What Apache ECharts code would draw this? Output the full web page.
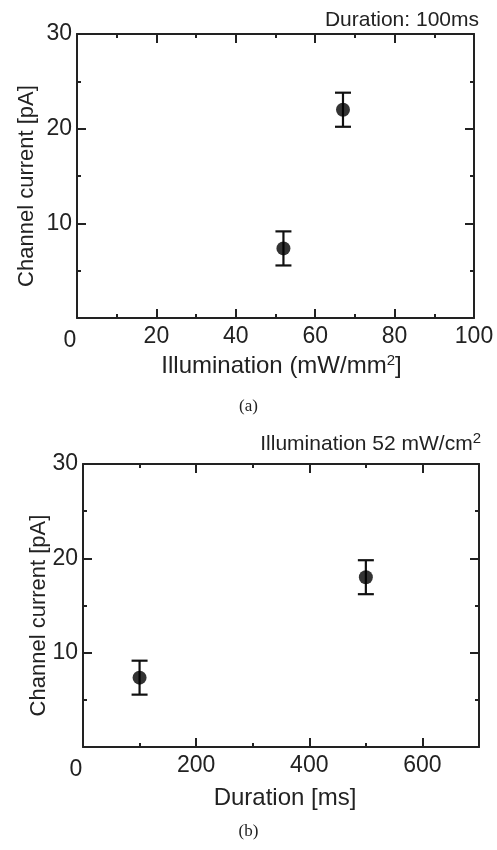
<!DOCTYPE html>
<html>
<head>
<meta charset="utf-8">
<script src="https://cdn.jsdelivr.net/npm/echarts@6/dist/echarts.min.js"></script>
<style>
html,body{margin:0;padding:0;background:#fff;}
#chart{width:497px;height:850px;}
</style>
</head>
<body>
<div id="chart"></div>
<script>
// Panel (a): current vs illumination (duration 100 ms)
const illumination = [52, 67];
const currentA = [7.35, 22.0];
const errA = [1.8, 1.8];
// Panel (b): current vs duration (illumination 52 mW/cm2)
const duration = [100, 500];
const currentB = [7.35, 18.0];
const errB = [1.8, 1.8];
// axis ticks
const xMajorB = [0, 200, 400, 600];
const xMinorB = [100, 300, 500];

const FONT = '"Liberation Sans", Arial, Helvetica, sans-serif';
const INK = '#222';

const chart = echarts.init(document.getElementById('chart'), null, {renderer: 'canvas'});

const lineStyle = {color: INK, width: 2};
const axisLine = {show: true, onZero: false, lineStyle};
function xLabelFmt(v) { return v === 0 ? '{z|0}' : String(v); }
const xLabel = {
  show: true, fontSize: 23, fontFamily: FONT, color: INK, margin: 7,
  formatter: xLabelFmt,
  rich: {z: {fontSize: 23, fontFamily: FONT, color: INK, padding: [4, 14, 0, 0]}}
};
const yLabel = {
  show: true, fontSize: 23, fontFamily: FONT, color: INK, margin: 5,
  formatter: v => (v === 0 ? '' : String(v))
};

function yAxes(gi, nameGap) {
  return [
    {gridIndex: gi, type: 'value', min: 0, max: 30, interval: 10, position: 'left',
     axisLine, splitLine: {show: false},
     axisTick: {show: true, inside: true, length: 9, lineStyle},
     minorTick: {show: true, splitNumber: 2, length: 4, lineStyle},
     axisLabel: yLabel,
     name: 'Channel current [pA]', nameLocation: 'middle', nameGap: nameGap,
     nameMoveOverlap: false,
     nameTextStyle: {fontSize: 22, fontFamily: FONT, color: INK, padding: [0, 20, 0, 0]}},
    {gridIndex: gi, type: 'value', min: 0, max: 30, interval: 10, position: 'right',
     axisLine, splitLine: {show: false},
     axisTick: {show: true, inside: true, length: 9, lineStyle},
     minorTick: {show: true, splitNumber: 2, length: 4, lineStyle},
     axisLabel: {show: false}}
  ];
}

function errorSeries(xi, yi, xs, ys, es) {
  return {
    type: 'custom', xAxisIndex: xi, yAxisIndex: yi,
    data: xs.map((x, i) => [x, ys[i] - es[i], ys[i] + es[i]]),
    encode: {x: 0, y: [1, 2]},
    silent: true, z: 3,
    renderItem: function (params, api) {
      const x = api.value(0), lo = api.value(1), hi = api.value(2);
      const a = api.coord([x, lo]), b = api.coord([x, hi]);
      const w = 8;
      const st = {stroke: '#111', lineWidth: 2.2};
      return {type: 'group', children: [
        {type: 'line', shape: {x1: a[0], y1: a[1], x2: b[0], y2: b[1]}, style: st},
        {type: 'line', shape: {x1: a[0] - w, y1: a[1], x2: a[0] + w, y2: a[1]}, style: st},
        {type: 'line', shape: {x1: b[0] - w, y1: b[1], x2: b[0] + w, y2: b[1]}, style: st}
      ]};
    }
  };
}

const supRich = {s: {fontSize: 15, fontFamily: FONT, color: INK, verticalAlign: 'top', padding: [0, 0, 12, 0]}};

const option = {
  backgroundColor: '#fff',
  animation: false,
  title: [
    {text: 'Duration: 100ms', right: 13, top: 5,
     textStyle: {fontSize: 21, fontWeight: 'normal', fontFamily: FONT, color: INK}},
    {text: 'Illumination 52 mW/cm{s|2}', right: 11, top: 426,
     textStyle: {fontSize: 21, fontWeight: 'normal', fontFamily: FONT, color: INK, rich: supRich}},
    {text: '(a)', left: 'center', top: 393,
     textStyle: {fontSize: 17, fontWeight: 'normal', fontFamily: '"Liberation Serif", "Times New Roman", serif', color: INK}},
    {text: '(b)', left: 'center', top: 818,
     textStyle: {fontSize: 17, fontWeight: 'normal', fontFamily: '"Liberation Serif", "Times New Roman", serif', color: INK}}
  ],
  grid: [
    {left: 77, top: 34, right: 23, height: 284},
    {left: 83, top: 464, right: 18, height: 283}
  ],
  xAxis: [
    // panel a bottom
    {gridIndex: 0, type: 'value', min: 0, max: 100, interval: 20, position: 'bottom',
     axisLine, splitLine: {show: false},
     axisTick: {show: true, inside: true, length: 9, lineStyle},
     minorTick: {show: true, splitNumber: 2, length: 4, lineStyle},
     axisLabel: xLabel,
     name: 'Illumination (mW/mm{s|2}]', nameLocation: 'middle', nameGap: 35, nameMoveOverlap: false,
     nameTextStyle: {fontSize: 24, fontFamily: FONT, color: INK, padding: [0, 0, 0, 12], rich: supRich}},
    // panel a top
    {gridIndex: 0, type: 'value', min: 0, max: 100, interval: 20, position: 'top',
     axisLine, splitLine: {show: false},
     axisTick: {show: true, inside: true, length: 9, lineStyle},
     minorTick: {show: true, splitNumber: 2, length: 4, lineStyle},
     axisLabel: {show: false}},
    // panel b bottom major
    {gridIndex: 1, type: 'value', min: 0, max: 700, interval: 100, position: 'bottom',
     axisLine, splitLine: {show: false},
     axisTick: {show: true, inside: true, length: 9, lineStyle, customValues: xMajorB},
     axisLabel: Object.assign({}, xLabel, {customValues: xMajorB}),
     name: 'Duration [ms]', nameLocation: 'middle', nameGap: 39, nameMoveOverlap: false,
     nameTextStyle: {fontSize: 24, fontFamily: FONT, color: INK, padding: [0, 0, 0, 8]}},
    // panel b bottom minor
    {gridIndex: 1, type: 'value', min: 0, max: 700, interval: 100, position: 'bottom',
     axisLine: {show: false, onZero: false}, splitLine: {show: false},
     axisTick: {show: true, inside: true, length: 4, lineStyle, customValues: xMinorB},
     axisLabel: {show: false}},
    // panel b top major
    {gridIndex: 1, type: 'value', min: 0, max: 700, interval: 100, position: 'top',
     axisLine, splitLine: {show: false},
     axisTick: {show: true, inside: true, length: 9, lineStyle, customValues: xMajorB},
     axisLabel: {show: false}},
    // panel b top minor
    {gridIndex: 1, type: 'value', min: 0, max: 700, interval: 100, position: 'top',
     axisLine: {show: false, onZero: false}, splitLine: {show: false},
     axisTick: {show: true, inside: true, length: 4, lineStyle, customValues: xMinorB},
     axisLabel: {show: false}}
  ],
  yAxis: [].concat(yAxes(0, 39), yAxes(1, 33)),
  series: [
    errorSeries(0, 0, illumination, currentA, errA),
    {type: 'scatter', xAxisIndex: 0, yAxisIndex: 0, symbol: 'circle', symbolSize: 14,
     itemStyle: {color: '#000'}, z: 4, silent: true,
     data: illumination.map((x, i) => [x, currentA[i]])},
    errorSeries(2, 2, duration, currentB, errB),
    {type: 'scatter', xAxisIndex: 2, yAxisIndex: 2, symbol: 'circle', symbolSize: 14,
     itemStyle: {color: '#000'}, z: 4, silent: true,
     data: duration.map((x, i) => [x, currentB[i]])}
  ]
};
chart.setOption(option);
</script>
</body>
</html>
